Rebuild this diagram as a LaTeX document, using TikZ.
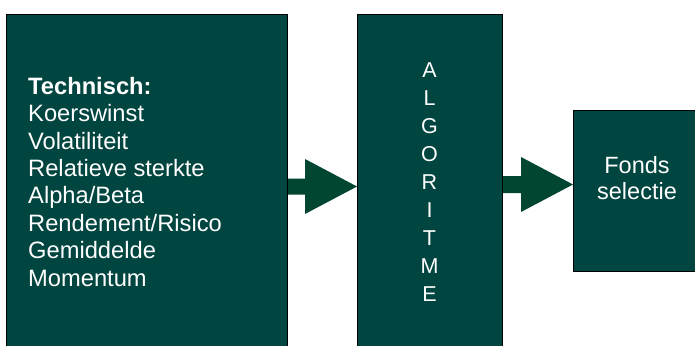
\documentclass[tikz,border=0pt]{standalone}
\usepackage{fontspec}
\setmainfont{Liberation Sans}
\usetikzlibrary{calc}
\definecolor{boxfill}{RGB}{0,69,63}
\definecolor{arrfill}{RGB}{0,70,50}
\tikzset{
  panel/.style={draw=black, line width=1.1pt, fill=boxfill, rectangle, inner sep=0pt, anchor=north west},
  paneltext/.style={text=white, inner sep=0pt},
  bigarrow/.style={fill=arrfill, draw=none}
}
\begin{document}
\begin{tikzpicture}[x=1pt,y=-1pt]
\useasboundingbox (0,0) rectangle (695,345);
\clip (0,0) rectangle (695,345);
\fill[white] (0,0) rectangle (695,345);
% boxes
\node[panel, minimum width=281pt, minimum height=340pt] (tech) at (6,14) {};
\node[panel, minimum width=145pt, minimum height=340pt] (alg) at (357,14) {};
\node[panel, minimum width=128pt, minimum height=161pt] (fonds) at (573,110) {};
% texts
\node[paneltext, anchor=north west, align=left,
      font=\fontsize{23.7}{27.4}\selectfont] (techtxt) at (28,77)
  {\textbf{Technisch:}\\Koerswinst\\Volatiliteit\\Relatieve sterkte\\Alpha/Beta\\Rendement/Risico\\Gemiddelde\\Momentum};
\node[paneltext, anchor=north, align=center,
      font=\fontsize{21.5}{27.9}\selectfont] (algtxt) at (429.5,63)
  {A\\L\\G\\O\\R\\I\\T\\M\\E};
\node[paneltext, anchor=north, align=center,
      font=\fontsize{23.5}{26.7}\selectfont] (fondstxt) at (637,156)
  {Fonds\\selectie};
% arrows
\path (tech.east |- 0,186.5) coordinate (a1s) (alg.west |- 0,186.5) coordinate (a1t);
\fill[bigarrow] ($(a1s)+(0,-8)$) -- ($(a1t)+(-52,-8)$) -- ($(a1t)+(-52,-27.5)$) -- (a1t)
  -- ($(a1t)+(-52,27.5)$) -- ($(a1t)+(-52,8)$) -- ($(a1s)+(0,8)$) -- cycle;
\path (alg.east |- 0,184.5) coordinate (a2s) (fonds.west |- 0,184.5) coordinate (a2t);
\fill[bigarrow] ($(a2s)+(0,-8.5)$) -- ($(a2t)+(-52,-8.5)$) -- ($(a2t)+(-52,-27.5)$) -- (a2t)
  -- ($(a2t)+(-52,27.5)$) -- ($(a2t)+(-52,8.5)$) -- ($(a2s)+(0,8.5)$) -- cycle;
\end{tikzpicture}
\end{document}
